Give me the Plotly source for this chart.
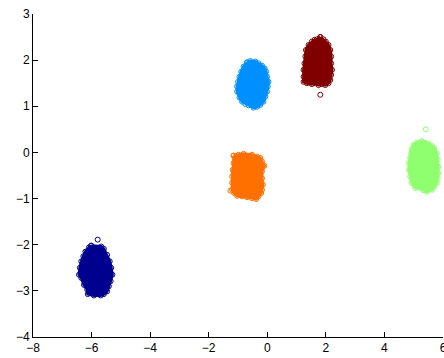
import plotly.graph_objects as go

# Cluster outlines (boundary samples, walked around each cloud) and stray points
navy_x = [-6.01, -5.67, -5.58, -5.47, -5.38, -5.33, -5.29, -5.35, -5.41, -5.47, -5.58, -5.69,
          -5.92, -6.13, -6.15, -6.26, -6.35, -6.43, -6.40, -6.35, -6.28, -6.21, -6.09]
navy_y = [-2.02, -2.04, -2.09, -2.22, -2.36, -2.50, -2.65, -2.79, -2.90, -3.01, -3.07, -3.10,
          -3.10, -3.07, -2.97, -2.87, -2.72, -2.65, -2.50, -2.36, -2.25, -2.15, -2.06]
navy_out_x = [-5.79]
navy_out_y = [-1.89]

orange_x = [-1.15, -0.98, -0.81, -0.52, -0.35, -0.24, -0.18, -0.10, -0.18, -0.18, -0.15, -0.18,
            -0.21, -0.30, -0.38, -0.52, -0.69, -0.86, -1.03, -1.13, -1.20, -1.20, -1.20, -1.18, -1.15]
orange_y = [-0.07, -0.05, -0.03, -0.05, -0.09, -0.12, -0.20, -0.29, -0.41, -0.56, -0.70, -0.81,
            -0.88, -0.95, -1.01, -0.99, -0.97, -0.95, -0.94, -0.88, -0.81, -0.66, -0.52, -0.38, -0.23]
orange_out_x = [-1.26]
orange_out_y = [-0.83]

sky_x = [-0.69, -0.58, -0.41, -0.30, -0.18, -0.09, -0.04, -0.01, 0.04, 0.02, -0.01, -0.07, -0.13,
         -0.24, -0.35, -0.47, -0.64, -0.75, -0.86, -0.95, -1.03, -1.03, -1.00, -0.95, -0.89, -0.81]
sky_y = [1.95, 1.98, 1.97, 1.93, 1.88, 1.82, 1.75, 1.64, 1.53, 1.43, 1.32, 1.21, 1.10,
         1.03, 0.99, 0.97, 1.02, 1.05, 1.10, 1.19, 1.32, 1.43, 1.53, 1.64, 1.75, 1.86]

maroon_x = [1.81, 1.92, 2.00, 2.09, 2.15, 2.18, 2.18, 2.21, 2.18, 2.15, 2.09, 1.98, 1.86, 1.75,
            1.64, 1.52, 1.35, 1.24, 1.24, 1.24, 1.27, 1.30, 1.32, 1.41, 1.52, 1.61, 1.69]
maroon_y = [2.50, 2.45, 2.40, 2.33, 2.22, 2.08, 1.93, 1.79, 1.68, 1.57, 1.50, 1.46, 1.48, 1.46,
            1.50, 1.48, 1.50, 1.53, 1.64, 1.79, 1.93, 2.08, 2.22, 2.33, 2.40, 2.44, 2.45]
maroon_out_x = [1.81]
maroon_out_y = [1.25]

lime_x = [5.27, 5.39, 5.50, 5.62, 5.70, 5.79, 5.82, 5.84, 5.84, 5.82, 5.79, 5.70, 5.62, 5.45,
          5.33, 5.22, 5.05, 4.93, 4.88, 4.84, 4.84, 4.88, 4.91, 4.93, 4.99, 5.11]
lime_y = [0.24, 0.21, 0.19, 0.14, 0.09, -0.02, -0.16, -0.31, -0.45, -0.56, -0.66, -0.74, -0.81,
          -0.85, -0.82, -0.77, -0.77, -0.66, -0.52, -0.38, -0.23, -0.12, -0.02, 0.07, 0.16, 0.21]
lime_out_x = [5.41]
lime_out_y = [0.50]

x_ticks = [-8, -6, -4, -2, 0, 2, 4, 6]
y_ticks = [-4, -3, -2, -1, 0, 1, 2, 3]

clusters = [
    (navy_x, navy_y, navy_out_x, navy_out_y, "rgb(0,0,143)"),
    (orange_x, orange_y, orange_out_x, orange_out_y, "rgb(255,112,0)"),
    (sky_x, sky_y, [], [], "rgb(0,143,255)"),
    (maroon_x, maroon_y, maroon_out_x, maroon_out_y, "rgb(128,0,0)"),
    (lime_x, lime_y, lime_out_x, lime_out_y, "rgb(143,255,112)"),
]

fig = go.Figure()
for cx, cy, ox, oy, color in clusters:
    fig.add_trace(go.Scatter(
        x=cx + cx[:1], y=cy + cy[:1], mode="lines+markers", fill="toself",
        fillcolor=color, line=dict(color=color, width=3),
        marker=dict(symbol="circle-open", size=5, color=color, line=dict(width=1, color=color)),
        hoverinfo="skip", showlegend=False,
    ))
    if ox:
        fig.add_trace(go.Scatter(
            x=ox, y=oy, mode="markers",
            marker=dict(symbol="circle-open", size=5, color=color, line=dict(width=1, color=color)),
            showlegend=False,
        ))

axis_common = dict(
    showgrid=False, zeroline=False, showline=True, linecolor="black", linewidth=1,
    ticks="inside", ticklen=5, tickwidth=1, tickcolor="black", automargin=False,
    ticklabeloverflow="allow",
    tickfont=dict(family="Liberation Sans, Arial, sans-serif", size=12, color="black"),
)
fig.update_xaxes(range=[-8, 6], tickvals=x_ticks, **axis_common)
fig.update_yaxes(range=[-4, 3], tickvals=y_ticks, **axis_common)

fig.update_layout(
    width=444, height=358,
    margin=dict(l=33, r=1, t=14, b=21, pad=0),
    paper_bgcolor="white", plot_bgcolor="white",
)

fig.write_html("out.html")
